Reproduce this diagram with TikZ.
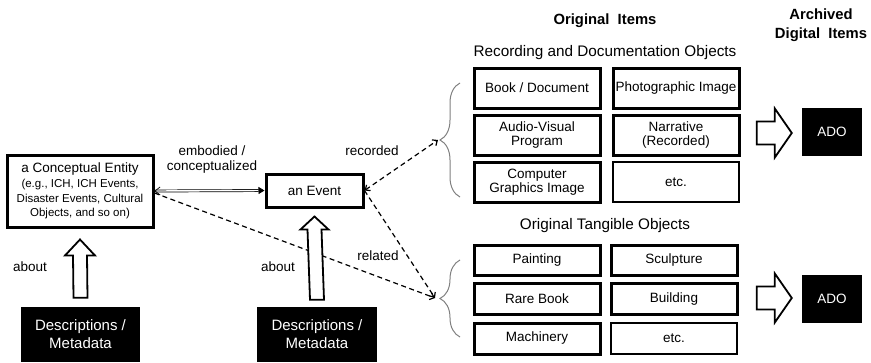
\documentclass[tikz,border=0pt]{standalone}
\usepackage{fontspec}
\setmainfont{Liberation Sans}
\usetikzlibrary{arrows.meta,calc,decorations.pathreplacing}
\begin{document}
\begin{tikzpicture}[x=1pt,y=-1pt,
  box/.style={draw,line width=3pt,inner sep=0pt,align=center,font=\fontsize{13.5}{14.5}\selectfont},
  thinbox/.style={box,line width=1.4pt},
  blackbox/.style={fill=black,text=white,inner sep=0pt,align=center},
  lbl/.style={font=\fontsize{13.5}{15}\selectfont,inner sep=0pt,align=center},
  sect/.style={font=\fontsize{15.3}{17}\selectfont,inner sep=0pt},
  titletext/.style={font=\bfseries\fontsize{14.8}{19}\selectfont,align=center,inner sep=0pt},
  dasharr/.style={dash pattern=on 5pt off 3.5pt,line width=1.2pt},
  barb/.tip={Straight Barb[length=4pt,width=7pt]},
  blk/.style={draw,line width=1.8pt,fill=white,line join=miter},
  brc/.style={draw=gray,line width=1pt,decorate,decoration={brace,amplitude=20pt}}]
\useasboundingbox (0,0) rectangle (871,362);

% left part
\node[box,minimum width=146,minimum height=72] (ent) at (80,191)
  {a Conceptual Entity\\[1pt]\fontsize{11.5}{14}\selectfont (e.g., ICH, ICH Events,\\ \fontsize{11.5}{14}\selectfont Disaster Events, Cultural\\ \fontsize{11.5}{14}\selectfont Objects, and so on)};
\node[box,minimum width=97,minimum height=33] (ev) at (314.5,190.5) {an Event};
\node[blackbox,minimum width=119,minimum height=55,font=\fontsize{15}{18}\selectfont] (d1) at (80.5,334.5) {Descriptions /\\Metadata};
\node[blackbox,minimum width=120,minimum height=55,font=\fontsize{15}{18}\selectfont] (d2) at (317,334.5) {Descriptions /\\Metadata};

\node[lbl] (lab1) at (212,160) {embodied /\\conceptualized};
\node[lbl] (labab1) at (30,267) {about};
\node[lbl] (labab2) at (278,267) {about};
\node[lbl] (labrec) at (372,151) {recorded};
\node[lbl] (labrel) at (378,256) {related};

% titles
\node[titletext] (t1) at (605,21) {Original\ \ Items};
\node[titletext] (t2) at (821,25) {Archived\\Digital\ \ Items};
\node[sect] (t3) at (605,53) {Recording and Documentation Objects};
\node[sect] (t4) at (605,226) {Original Tangible Objects};

% upper grid
\node[box,minimum width=126,minimum height=40] (a1) at (537,88) {Book / Document};
\node[box,minimum width=126,minimum height=40] (a2) at (676,88) {Photographic Image};
\node[box,minimum width=126,minimum height=40] (a3) at (537,135) {Audio-Visual\\Program};
\node[box,minimum width=126,minimum height=40] (a4) at (676,135) {Narrative\\(Recorded)};
\node[box,minimum width=126,minimum height=40] (a5) at (537,182) {Computer\\Graphics Image};
\node[thinbox,minimum width=126,minimum height=40] (a6) at (676,182) {etc.};

% lower grid
\node[box,minimum width=126,minimum height=30] (b1) at (537,260) {Painting};
\node[box,minimum width=126,minimum height=30] (b2) at (674,260) {Sculpture};
\node[box,minimum width=126,minimum height=31] (b3) at (537,299) {Rare Book};
\node[box,minimum width=126,minimum height=31] (b4) at (674,299) {Building};
\node[box,minimum width=126,minimum height=31] (b5) at (537,338.5) {Machinery};
\node[thinbox,minimum width=126,minimum height=31] (b6) at (674,338.5) {etc.};

% ADO boxes
\node[blackbox,minimum width=60,minimum height=48,font=\fontsize{13.5}{15}\selectfont] (ado1) at (832,132) {ADO};
\node[blackbox,minimum width=60,minimum height=48,font=\fontsize{13.5}{15}\selectfont] (ado2) at (832,299) {ADO};

% braces
\draw[brc] (460,197) -- (460,83);
\draw[brc] (460,337) -- (460,260);
\coordinate (br1) at (438,140);
\coordinate (br2) at (435,298);

% connectors
\draw[double,double distance=1.4pt,line width=0.7pt,{Straight Barb[length=5pt,width=8pt]}-{Triangle[length=6pt,width=7pt]}] (ent.east) -- (ev.west);
\draw[dasharr,barb-barb] (ev.east) -- (br1);
\draw[dasharr,-barb] (ev.east) -- (br2);
\draw[dasharr,-barb] ([yshift=-2pt]ent.east) -- (br2);

% hollow up arrows
\coordinate (u1b) at ($(d1.north)+(0,-9)$);
\coordinate (u1t) at ($(ent.south)+(0,11)$);
\draw[blk] ($(u1b)+(-7,0)$) -- ($(u1t)+(-7,16)$) -- ($(u1t)+(-15,16)$) -- (u1t) -- ($(u1t)+(15,16)$) -- ($(u1t)+(7,16)$) -- ($(u1b)+(7,0)$) -- cycle;
\coordinate (u2b) at ($(d2.north)+(0,-7)$);
\coordinate (u2t) at ($(ev.south)+(0,8)$);
\draw[blk] ($(u2b)+(-7,0)$) -- ($(u2t)+(-7,13)$) -- ($(u2t)+(-14,13)$) -- (u2t) -- ($(u2t)+(14,13)$) -- ($(u2t)+(7,13)$) -- ($(u2b)+(7,0)$) -- cycle;

% hollow right arrows
\coordinate (r1t) at ($(ado1.west)+(-10,1)$);
\coordinate (r1b) at ($(r1t)+(-35,0)$);
\draw[blk] ($(r1b)+(0,-11.5)$) -- ($(r1t)+(-17,-11.5)$) -- ($(r1t)+(-17,-24.5)$) -- (r1t) -- ($(r1t)+(-17,24.5)$) -- ($(r1t)+(-17,11.5)$) -- ($(r1b)+(0,11.5)$) -- cycle;
\coordinate (r2t) at ($(ado2.west)+(-10,-1)$);
\coordinate (r2b) at ($(r2t)+(-35,0)$);
\draw[blk] ($(r2b)+(0,-11.5)$) -- ($(r2t)+(-17,-11.5)$) -- ($(r2t)+(-17,-24.5)$) -- (r2t) -- ($(r2t)+(-17,24.5)$) -- ($(r2t)+(-17,11.5)$) -- ($(r2b)+(0,11.5)$) -- cycle;
\end{tikzpicture}
\end{document}
